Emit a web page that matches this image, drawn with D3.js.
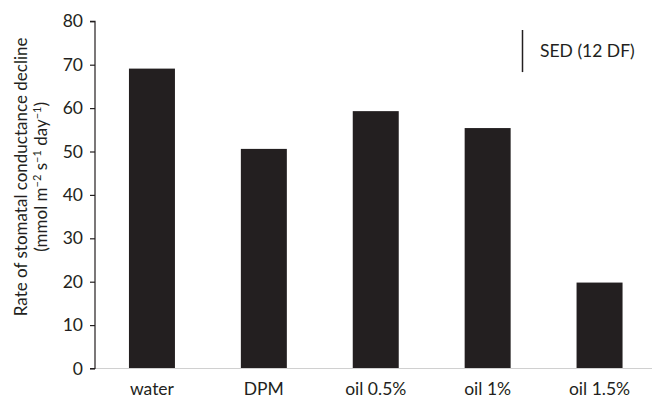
<!DOCTYPE html>
<html>
<head>
<meta charset="utf-8">
<script src="https://cdn.jsdelivr.net/npm/d3@7"></script>
<style>
  html, body { margin: 0; padding: 0; background: #fff; }
  svg { display: block; }
  text { font-family: Lato, "Open Sans", sans-serif; fill: #231f20; }
</style>
</head>
<body>
<svg id="chart" width="652" height="399"></svg>
<script>
// Treatments and mean rate of stomatal conductance decline
const categories = ["water", "DPM", "oil 0.5%", "oil 1%", "oil 1.5%"];
const rates = [69.1, 50.6, 59.3, 55.4, 19.8];
const yTicks = [0, 10, 20, 30, 40, 50, 60, 70, 80];
const sedValue = 9.7;          // standard error of difference, 12 DF
const sedLabel = "SED (12 DF)";

const svg = d3.select("#chart");
const plotLeft = 95, plotRight = 655.5, plotTop = 21.3, plotBottom = 368.5;
const ink = "#231f20";
const labelSize = 17.5;

const x = d3.scaleBand()
  .domain(categories)
  .range([plotLeft + 1, plotRight])
  .paddingInner(0.589)
  .paddingOuter(0.2945);

const y = d3.scaleLinear().domain([0, 80]).range([plotBottom, plotTop]);

// bars
svg.append("g")
  .selectAll("rect")
  .data(categories.map((c, i) => ({ c, v: rates[i] })))
  .join("rect")
  .attr("x", d => x(d.c))
  .attr("y", d => y(d.v))
  .attr("width", x.bandwidth())
  .attr("height", d => y(0) - y(d.v))
  .attr("fill", ink);

// x axis baseline (light grey) with category labels
svg.append("line")
  .attr("x1", plotLeft).attr("x2", 652)
  .attr("y1", y(0)).attr("y2", y(0))
  .attr("stroke", "#d0d0d0").attr("stroke-width", 1);

svg.append("g")
  .selectAll("text")
  .data(categories)
  .join("text")
  .attr("x", d => x(d) + x.bandwidth() / 2)
  .attr("y", 395)
  .attr("text-anchor", "middle")
  .attr("font-size", labelSize)
  .text(d => d);

// y axis
const yAxis = d3.axisLeft(y).tickValues(yTicks).tickSize(5).tickPadding(7).tickFormat(d3.format("d"));
const gy = svg.append("g").attr("transform", `translate(${plotLeft},0)`).call(yAxis);
gy.select(".domain").attr("stroke", ink).attr("stroke-width", 1.2)
  .attr("d", `M-5,${plotTop}H0V${plotBottom}H-5`);
gy.selectAll(".tick line").attr("stroke", ink).attr("stroke-width", 1.2);
gy.selectAll(".tick text")
  .attr("font-family", "Lato, 'Open Sans', sans-serif")
  .attr("font-size", labelSize)
  .attr("fill", ink);

// y axis title, two lines
const yt = svg.append("text")
  .attr("transform", `translate(0,${(plotTop + plotBottom) / 2 - 18}) rotate(-90)`)
  .attr("text-anchor", "middle")
  .attr("font-size", 17);
yt.append("tspan").attr("x", 0).attr("y", 27).text("Rate of stomatal conductance decline");
const l2 = yt.append("tspan").attr("x", 0).attr("y", 47);
l2.append("tspan").text("(mmol m");
l2.append("tspan").attr("dy", -6).attr("font-size", 11).text("\u22122");
l2.append("tspan").attr("dy", 6).text(" s");
l2.append("tspan").attr("dy", -6).attr("font-size", 11).text("\u22121");
l2.append("tspan").attr("dy", 6).text(" day");
l2.append("tspan").attr("dy", -6).attr("font-size", 11).text("\u22121");
l2.append("tspan").attr("dy", 6).text(")");

// SED bar
const sedTop = 78;
const sedX = 522.5;
svg.append("line")
  .attr("x1", sedX).attr("x2", sedX)
  .attr("y1", y(sedTop)).attr("y2", y(sedTop - sedValue))
  .attr("stroke", ink).attr("stroke-width", 1.5);
svg.append("text")
  .attr("x", 540)
  .attr("y", y(sedTop - sedValue / 2) + 6)
  .attr("font-size", labelSize)
  .text(sedLabel);
</script>
</body>
</html>
